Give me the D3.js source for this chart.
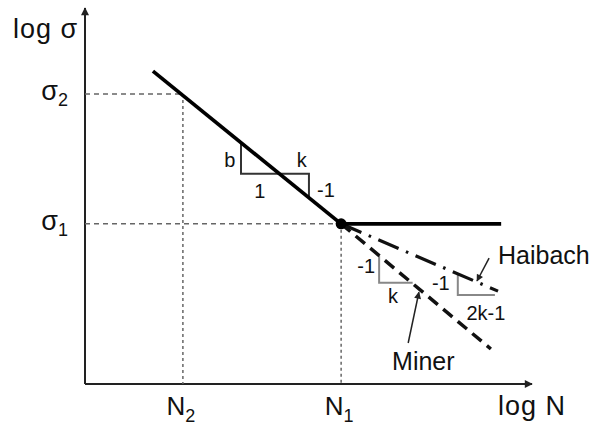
<!DOCTYPE html>
<html><head><meta charset="utf-8">
<script src="https://cdn.jsdelivr.net/npm/d3@7"></script>
<style>body{margin:0;background:#fff}svg{display:block}</style>
</head><body><svg id="c" width="595" height="426"></svg>
<script>
// ---- data (axis units: log N on 0..10, log sigma on 0..10) ----
const xMarks = [2.19, 5.73];            // N2, N1
const xMarkSubs = ["2", "1"];
const yMarks = [7.71, 4.26];            // sigma2, sigma1
const yMarkSubs = ["2", "1"];
const basquinLine = [[1.52, 8.32], [5.73, 4.26]];
const enduranceLine = [[5.73, 4.26], [9.31, 4.26]];
const minerLine = [[5.73, 4.26], [9.08, 0.93]];
const haibachLine = [[5.73, 4.26], [9.24, 2.47]];
const slopeB = [[3.49, 6.42], [3.49, 5.59], [4.35, 5.59]];
const slopeK = [[4.35, 5.59], [5.01, 5.59], [5.01, 4.95]];
const slopeMiner = [[6.58, 3.41], [6.58, 2.69], [7.33, 2.69]];
const slopeHaibach = [[8.34, 2.93], [8.34, 2.37], [9.17, 2.37]];
const slopeLabels = [
  {t: "b", p: [3.24, 5.77]}, {t: "1", p: [3.91, 4.95]},
  {t: "k", p: [4.85, 5.77]}, {t: "-1", p: [5.39, 4.97]},
  {t: "-1", p: [6.29, 2.95]}, {t: "k", p: [6.89, 2.15]},
  {t: "-1", p: [7.96, 2.50]}, {t: "2k-1", p: [8.97, 1.70]}
];
const curveLabels = [{t: "Haibach", p: [9.24, 3.19]}, {t: "Miner", p: [6.87, 0.37]}];
const pointers = [[[9.04, 3.35], [8.77, 2.74]], [[7.23, 1.09], [7.47, 2.44]]];

// ---- drawing ----
const svg = d3.select("#c");
const FONT = "'Liberation Sans', Arial, sans-serif";
const x = d3.scaleLinear().domain([0, 10]).range([85, 532]);
const y = d3.scaleLinear().domain([0, 10]).range([384, 8]);
const line = d3.line().x(d => x(d[0])).y(d => y(d[1]));

const defs = svg.append("defs");
defs.append("marker").attr("id", "ax").attr("viewBox", "0 0 10 10").attr("refX", 9).attr("refY", 5)
  .attr("markerWidth", 10).attr("markerHeight", 8).attr("markerUnits", "userSpaceOnUse").attr("orient", "auto")
  .append("path").attr("d", "M0,0L10,5L0,10z").attr("fill", "#222");
defs.append("marker").attr("id", "pt").attr("viewBox", "0 0 10 10").attr("refX", 9).attr("refY", 5)
  .attr("markerWidth", 9).attr("markerHeight", 7).attr("markerUnits", "userSpaceOnUse").attr("orient", "auto")
  .append("path").attr("d", "M0,0L10,5L0,10z").attr("fill", "#222");

// axes
const gx = svg.append("g").attr("transform", `translate(0,${y(0)})`)
  .call(d3.axisBottom(x).tickValues(xMarks).tickSize(0).tickFormat(""));
gx.select(".domain").attr("stroke", "#222").attr("stroke-width", 2).attr("d", `M${x(0)},0H${x(10)}`)
  .attr("marker-end", "url(#ax)");
const gy = svg.append("g").attr("transform", `translate(${x(0)},0)`)
  .call(d3.axisLeft(y).tickValues(yMarks).tickSize(0).tickFormat(""));
gy.select(".domain").attr("stroke", "#222").attr("stroke-width", 2).attr("d", `M0,${y(0)}V${y(10)}`)
  .attr("marker-end", "url(#ax)");

// reference dashed lines
yMarks.forEach((v, i) => {
  svg.append("path").attr("d", line([[0, v], [xMarks[i], v]])).attr("stroke", "#666")
    .attr("stroke-width", 1.5).attr("stroke-dasharray", "5,4").attr("fill", "none");
  svg.append("path").attr("d", line([[xMarks[i], v], [xMarks[i], 0]])).attr("stroke", "#666")
    .attr("stroke-width", 1.5).attr("stroke-dasharray", "3,3").attr("fill", "none");
});

// slope triangles
[[slopeB, "#333"], [slopeK, "#333"], [slopeMiner, "#888"], [slopeHaibach, "#888"]].forEach(([pts, c]) => {
  svg.append("path").attr("d", line(pts)).attr("stroke", c).attr("stroke-width", 2).attr("fill", "none");
});

// curves
svg.append("path").attr("d", line(minerLine)).attr("stroke", "#111").attr("stroke-width", 3.5)
  .attr("stroke-dasharray", "12,7").attr("fill", "none");
svg.append("path").attr("d", line(haibachLine)).attr("stroke", "#111").attr("stroke-width", 3.2)
  .attr("stroke-dasharray", "22,8,2.5,8").attr("fill", "none");
svg.append("path").attr("d", line(basquinLine)).attr("stroke", "#000").attr("stroke-width", 3.7).attr("fill", "none");
svg.append("path").attr("d", line(enduranceLine)).attr("stroke", "#000").attr("stroke-width", 3.7).attr("fill", "none");
svg.append("circle").attr("cx", x(xMarks[1])).attr("cy", y(yMarks[1])).attr("r", 5.5).attr("fill", "#000");

// pointers
pointers.forEach(p => {
  svg.append("path").attr("d", line(p)).attr("stroke", "#222").attr("stroke-width", 1.5)
    .attr("fill", "none").attr("marker-end", "url(#pt)");
});

// text
const T = (px, py, s, anchor) => svg.append("text").attr("x", px).attr("y", py)
  .attr("font-family", FONT).attr("font-size", s).attr("fill", "#111").attr("text-anchor", anchor || "start");

T(13, 38, 27).attr("letter-spacing", 1).text("log σ");
T(498, 415, 27).attr("letter-spacing", 1).text("log N");

yMarks.forEach((v, i) => {
  const t = T(x(0) - 17, y(v) + 6, 27, "end");
  t.append("tspan").text("σ");
  t.append("tspan").attr("font-size", 18).attr("dy", 6).text(yMarkSubs[i]);
});
xMarks.forEach((v, i) => {
  const t = T(x(v) - 2, 415, 26, "middle");
  t.append("tspan").text("N");
  t.append("tspan").attr("font-size", 18).attr("dy", 7).text(xMarkSubs[i]);
});

slopeLabels.forEach(l => T(x(l.p[0]), y(l.p[1]), 20, "middle").text(l.t));
curveLabels.forEach(l => T(x(l.p[0]), y(l.p[1]), 25).text(l.t));
</script></body></html>
